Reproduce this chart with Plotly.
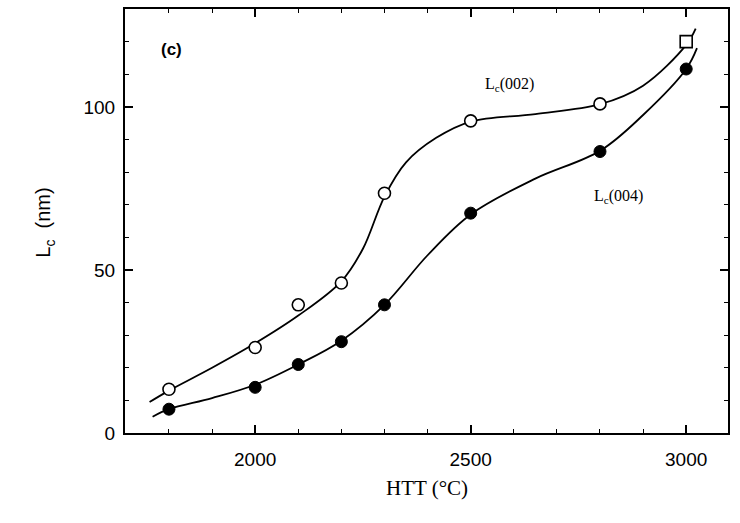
import plotly.graph_objects as go

# Measured points
htt = [1800, 2000, 2100, 2200, 2300, 2500, 2800, 3000]
lc002 = [13.4, 26.2, 39.3, 46.0, 73.5, 95.7, 100.9, 120.0]
lc004 = [7.3, 14.0, 21.0, 28.0, 39.3, 67.4, 86.3, 111.6]
symbols002 = ["circle"] * 7 + ["square"]

# Hand-drawn fitted curves
fit002_x = [1755, 1800, 1900, 2000, 2100, 2200, 2250, 2300, 2350, 2420, 2500, 2650, 2800, 2900, 3000, 3022]
fit002_y = [9.5, 13.0, 20.0, 27.5, 36.0, 46.5, 56.5, 72.5, 83.0, 90.5, 95.5, 97.8, 100.8, 106.5, 119.0, 124.0]
fit004_x = [1762, 1800, 1900, 2000, 2100, 2200, 2300, 2400, 2500, 2650, 2800, 2900, 3000, 3025]
fit004_y = [5.0, 7.3, 10.7, 14.8, 21.0, 28.3, 39.3, 54.5, 67.0, 78.0, 86.5, 97.5, 111.6, 118.0]

xticks = [2000, 2500, 3000]
yticks = [0, 50, 100]

fig = go.Figure()
fig.add_trace(go.Scatter(x=fit002_x, y=fit002_y, mode="lines",
                         line=dict(color="black", width=1.8, shape="spline", smoothing=1), showlegend=False))
fig.add_trace(go.Scatter(x=fit004_x, y=fit004_y, mode="lines",
                         line=dict(color="black", width=1.8, shape="spline", smoothing=1), showlegend=False))
fig.add_trace(go.Scatter(x=htt, y=lc002, mode="markers",
                         marker=dict(symbol=symbols002, size=12, color="white", line=dict(color="black", width=1.6)),
                         showlegend=False))
fig.add_trace(go.Scatter(x=htt, y=lc004, mode="markers",
                         marker=dict(symbol="circle", size=12, color="black", line=dict(color="black", width=1)),
                         showlegend=False))

axis_common = dict(showline=True, linecolor="black", linewidth=2, mirror="allticks",
                   ticks="inside", ticklen=8, tickwidth=1.5, tickcolor="black",
                   showgrid=False, zeroline=False,
                   tickfont=dict(family="Liberation Sans, Arial", size=19, color="black"))

fig.update_xaxes(range=[1698, 3097], tickvals=xticks, ticktext=[str(v) for v in xticks],
                 minor=dict(dtick=100, tick0=1700, ticks="inside", ticklen=4, tickwidth=1.2, tickcolor="black"),
                 ticklabelstandoff=8, **axis_common)
fig.update_yaxes(range=[0, 130], tickvals=yticks, ticktext=[str(v) for v in yticks],
                 minor=dict(dtick=10, tick0=0, ticks="inside", ticklen=4, tickwidth=1.2, tickcolor="black"),
                 ticklabelstandoff=4, **axis_common)

fig.add_annotation(x=1807, y=117.7, xref="x", yref="y", text="<b>(c)</b>", showarrow=False,
                   font=dict(family="Liberation Sans, Arial", size=17, color="black"))
fig.add_annotation(x=2589, y=106.7, xref="x", yref="y", text="L<sub>c</sub>(002)", showarrow=False,
                   font=dict(family="Liberation Serif, Times New Roman", size=16, color="black"))
fig.add_annotation(x=2844, y=72.6, xref="x", yref="y", text="L<sub>c</sub>(004)", showarrow=False,
                   font=dict(family="Liberation Serif, Times New Roman", size=16, color="black"))
fig.add_annotation(x=-0.1575, y=0.495, xref="paper", yref="paper", text="L<sub>c</sub>  (nm)", showarrow=False,
                   textangle=-90, font=dict(family="Liberation Sans, Arial", size=20, color="black"))
fig.add_annotation(x=0.5, y=-0.162, xref="paper", yref="paper", text="HTT (°C)", showarrow=False,
                   font=dict(family="Liberation Serif, Times New Roman", size=21, color="black"))

fig.update_layout(width=740, height=523, margin=dict(l=125, r=12, t=7, b=90),
                  plot_bgcolor="white", paper_bgcolor="white")
fig.write_html("out.html")
